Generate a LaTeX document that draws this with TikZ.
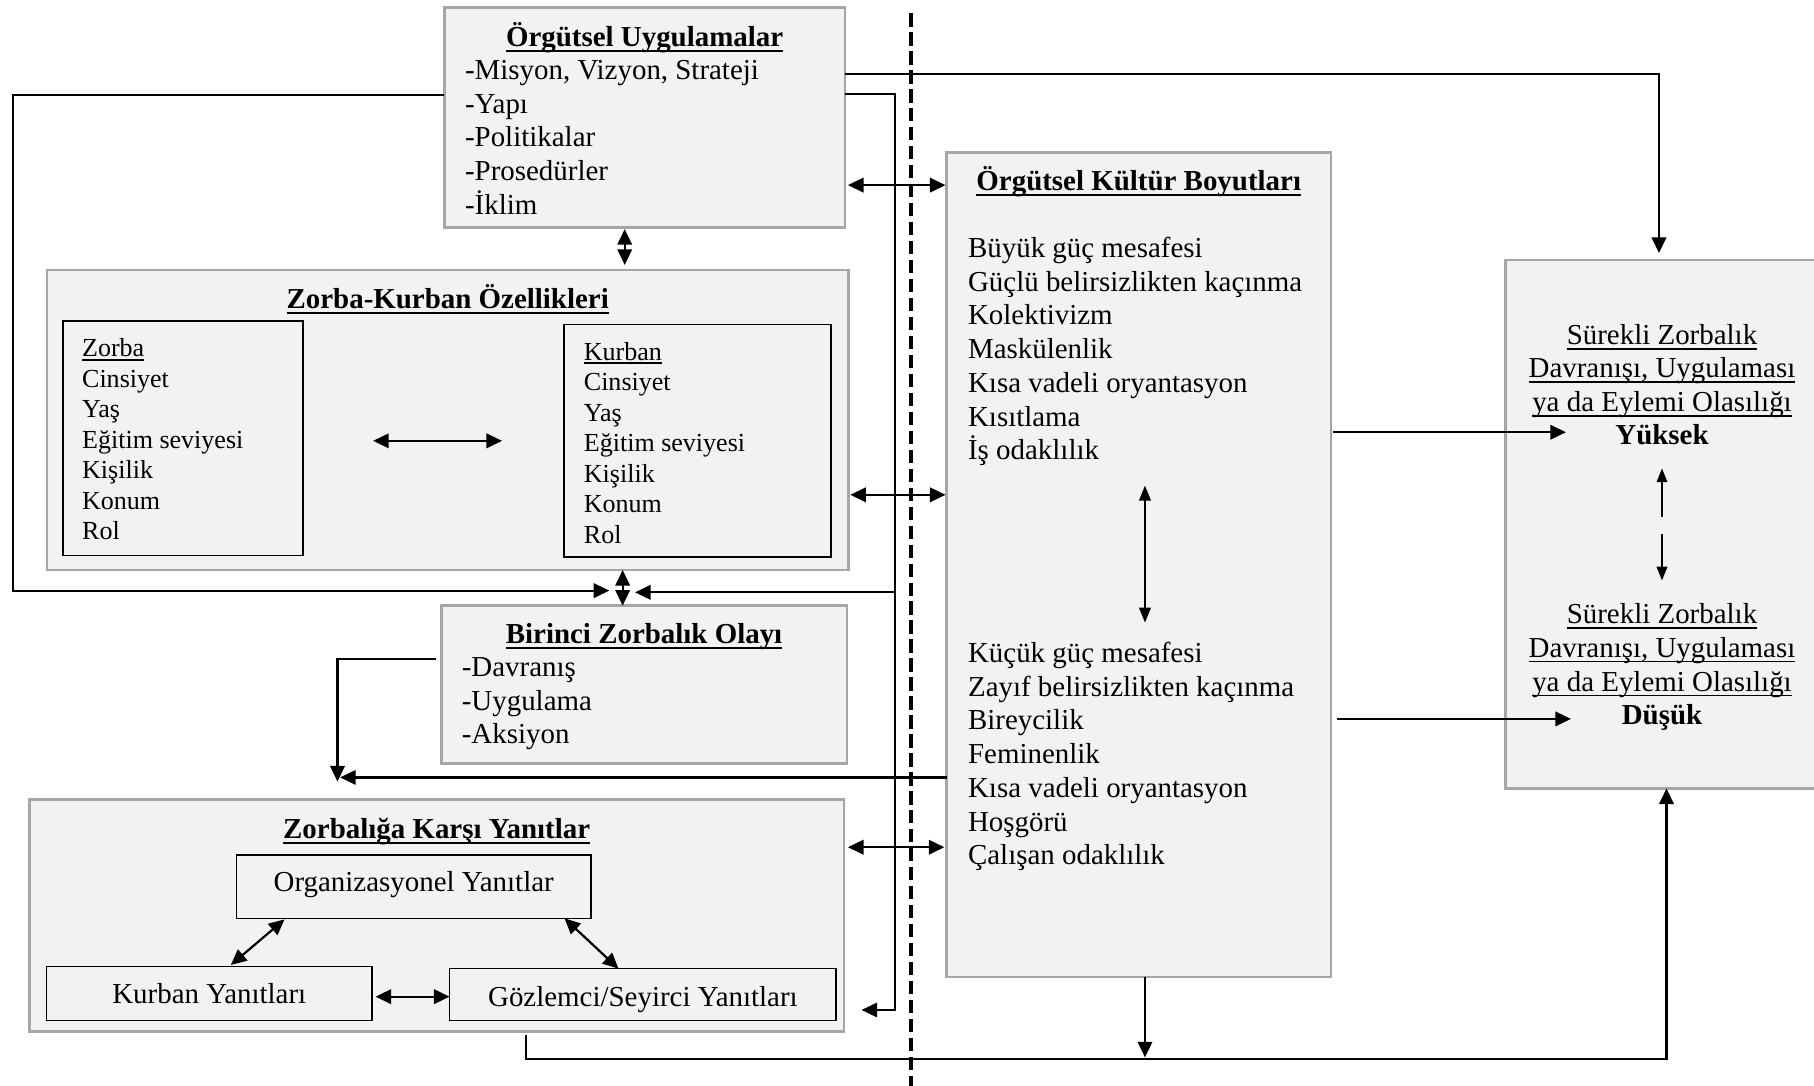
\documentclass[tikz,border=0pt]{standalone}
\usepackage{fontspec}
\setmainfont{Liberation Serif}
\usetikzlibrary{arrows.meta}

\definecolor{boxfill}{RGB}{242,242,242}
\definecolor{boxline}{RGB}{166,166,166}

% underline at a fixed distance below the baseline: #1 gap, #2 rule thickness, #3 text
\newcommand{\ulx}[3]{{\setbox0=\hbox{#3}\dp0=0pt \vtop{\box0\kern#1\hrule height #2}}}
\newcommand{\ttl}[1]{\ulx{3pt}{2pt}{\bfseries #1}}
\newcommand{\ulr}[1]{\ulx{3pt}{1.4pt}{#1}}

\begin{document}
\begin{tikzpicture}[x=1pt,y=-1pt,
  every node/.style={inner sep=0pt, outer sep=0pt},
  panel/.style={draw=boxline, fill=boxfill, line width=2.2pt, anchor=north west},
  inbox/.style={draw=black, fill=boxfill, line width=1.3pt, anchor=north west},
  txt/.style={anchor=base west, font=\fontsize{25}{30}\selectfont},
  ctxt/.style={anchor=base, font=\fontsize{25}{30}\selectfont},
  stxt/.style={anchor=base west, font=\fontsize{22.5}{27}\selectfont},
  conn/.style={line width=1.9pt},
  arr/.style={conn, -{Triangle[length=13.5pt,width=12.5pt]}},
  darr/.style={conn, {Triangle[length=13.5pt,width=12.5pt]}-{Triangle[length=13.5pt,width=12.5pt]}},
]
\useasboundingbox (0,0) rectangle (1568,938);

% ---------- panels ----------
\node[panel, minimum width=346.4, minimum height=190.5] (ou) at (384,6.3) {};
\node[panel, minimum width=692.9, minimum height=259.3] (zk) at (40.6,233.4) {};
\node[inbox, minimum width=207.4, minimum height=202.8] (zb) at (54.3,277.5) {};
\node[inbox, minimum width=230.8, minimum height=200.9] (kb) at (487.5,280.6) {};
\node[panel, minimum width=350.5, minimum height=136.3] (bz) at (381.5,523.5) {};
\node[panel, minimum width=704, minimum height=200.9] (yb) at (25.4,690.9) {};
\node[inbox, minimum width=306.4, minimum height=54.8] (org) at (204.4,739) {};
\node[inbox, minimum width=281.5, minimum height=46.7] (kry) at (40.1,835.6) {};
\node[inbox, minimum width=334.2, minimum height=45] (gsy) at (388.6,837.3) {};
\node[panel, minimum width=332.1, minimum height=712.6] (k5) at (818.3,131.9) {};
\node[panel, minimum width=274, minimum height=456.8] (b6) at (1301.2,224.7) {};

% ---------- dividing line ----------
\coordinate (dv1) at (787.5,11.5);
\coordinate (dv2) at (787.5,945);
\draw[line width=4pt, dash pattern=on 11.5pt off 4.9pt] (dv1) -- (dv2);

% ---------- texts: Örgütsel Uygulamalar ----------
\node[ctxt] (ou-t) at (557.2,40.3) {\ttl{Örgütsel Uygulamalar}};
\foreach \s [count=\i from 0] in {{-Misyon, Vizyon, Strateji},-Yapı,-Politikalar,-Prosedürler,-İklim}
  \node[txt] (ou-\i) at (402,69+29*\i) {\s};

% ---------- Zorba-Kurban Özellikleri ----------
\node[ctxt] (zk-t) at (387,266.5) {\ttl{Zorba-Kurban Özellikleri}};
\node[stxt] (zb-0) at (71,308.3) {\ulx{2pt}{1.4pt}{Zorba}};
\foreach \s [count=\i] in {Cinsiyet,Yaş,Eğitim seviyesi,Kişilik,Konum,Rol}
  \node[stxt] (zb-\i) at (71,308.3+26.4*\i) {\s};
\node[stxt] (kb-0) at (504.7,311.2) {\ulx{2pt}{1.4pt}{Kurban}};
\foreach \s [count=\i] in {Cinsiyet,Yaş,Eğitim seviyesi,Kişilik,Konum,Rol}
  \node[stxt] (kb-\i) at (504.7,311.2+26.4*\i) {\s};

% ---------- Birinci Zorbalık Olayı ----------
\node[ctxt] (bz-t) at (556.7,556) {\ttl{Birinci Zorbalık Olayı}};
\foreach \s [count=\i from 0] in {-Davranış,-Uygulama,-Aksiyon}
  \node[txt] (bz-\i) at (399.2,585+29*\i) {\s};

% ---------- Zorbalığa Karşı Yanıtlar ----------
\node[ctxt] (yb-t) at (377.4,724.6) {\ttl{Zorbalığa Karşı Yanıtlar}};
\node[ctxt] (org-t) at (357.6,770.7) {Organizasyonel Yanıtlar};
\node[ctxt] (kry-t) at (180.9,867.8) {Kurban Yanıtları};
\node[ctxt] (gsy-t) at (555.7,869.6) {Gözlemci/Seyirci Yanıtları};

% ---------- Örgütsel Kültür Boyutları ----------
\node[ctxt] (k5-t) at (984.3,164.6) {\ttl{Örgütsel Kültür Boyutları}};
\foreach \s [count=\i from 0] in {Büyük güç mesafesi,Güçlü belirsizlikten kaçınma,Kolektivizm,Maskülenlik,Kısa vadeli oryantasyon,Kısıtlama,İş odaklılık}
  \node[txt] (kh-\i) at (836.8,222.6+29.13*\i) {\s};
\foreach \s [count=\i from 0] in {Küçük güç mesafesi,Zayıf belirsizlikten kaçınma,Bireycilik,Feminenlik,Kısa vadeli oryantasyon,Hoşgörü,Çalışan odaklılık}
  \node[txt] (kl-\i) at (836.8,572.5+29.18*\i) {\s};

% ---------- outcome ----------
\node[ctxt] (hi-0) at (1436.6,297.7) {\ulr{Sürekli Zorbalık}};
\node[ctxt] (hi-1) at (1436.6,326.4) {\ulr{Davranışı, Uygulaması}};
\node[ctxt] (hi-2) at (1436.6,355.7) {\ulr{ya da Eylemi Olasılığı}};
\node[ctxt] (hi-3) at (1436.6,384) {\bfseries Yüksek};
\node[ctxt] (lo-0) at (1436.6,538.9) {\ulr{Sürekli Zorbalık}};
\node[ctxt] (lo-1) at (1436.6,568.2) {\ulr{Davranışı, Uygulaması}};
\node[ctxt] (lo-2) at (1436.6,597.6) {\ulr{ya da Eylemi Olasılığı}};
\node[ctxt] (lo-3) at (1436.6,626.4) {\bfseries Düşük};

% ---------- connectors ----------
% practices -> outcome (top route)
\coordinate (c1) at (1434,64);
\draw[arr, shorten >=6pt] (ou.east |- c1) -- (c1) -- (c1 |- b6.north);

% practices -> right rail -> responses, and rail -> first incident
\coordinate (r1) at (773.6,81.3);
\coordinate (r2) at (773.6,873);
\coordinate (r3) at (773.6,512);
\coordinate (r3e) at (548.9,512);
\draw[arr, shorten >=15.3pt] (ou.east |- r1) -- (r1) -- (r2) -- (r2 -| yb.east);
\draw[arr] (r3) -- (r3e);

% practices -> left rail -> first incident
\coordinate (l1) at (11.2,82);
\coordinate (l2) at (11.2,510.5);
\coordinate (l2e) at (526.7,510.5);
\draw[arr] (ou.west |- l1) -- (l1) -- (l2) -- (l2e);

% vertical links in the left column
\coordinate (m1) at (540,0);
\coordinate (m2) at (538.2,0);
\draw[darr, shorten <=1.2pt, shorten >=4.4pt] (ou.south -| m1) -- (zk.north -| m1);
\draw[darr] (zk.south -| m2) -- (bz.north -| m2);

% first incident -> responses
\coordinate (d1) at (291.7,569.3);
\coordinate (d2) at (291.7,675.6);
\draw[arr, shorten <=4.6pt] (bz.west |- d1) -- (d1) -- (d2);
\coordinate (d3) at (294,672);
\draw[arr] (k5.west |- d3) -- (d3);

% two-way links across the divide
\coordinate (h1) at (0,160);
\coordinate (h2) at (0,427.7);
\coordinate (h3) at (0,732.3);
\draw[darr, shorten <=2.5pt, shorten >=1pt] (ou.east |- h1) -- (k5.west |- h1);
\draw[darr, shorten <=1.5pt, shorten >=1pt] (zk.east |- h2) -- (k5.west |- h2);
\draw[darr, shorten <=3.5pt, shorten >=2pt] (yb.east |- h3) -- (k5.west |- h3);

% culture -> outcome
\coordinate (o1) at (1353.6,373.6);
\coordinate (o2) at (1357.9,621.4);
\draw[arr, shorten <=1.5pt] (k5.east |- o1) -- (o1);
\draw[arr, shorten <=5pt] (k5.east |- o2) -- (o2);

% culture: between the two poles
\coordinate (v1) at (989.7,419.7);
\coordinate (v2) at (989.7,538.2);
\draw[conn, {Triangle[length=13pt,width=10pt]}-{Triangle[length=13pt,width=10pt]}] (v1) -- (v2);

% outcome: between high and low
\coordinate (w1) at (1436.6,446.5);
\coordinate (w2) at (1436.6,404.8);
\coordinate (w3) at (1436.6,462);
\coordinate (w4) at (1436.6,501.8);
\draw[conn, -{Triangle[length=12pt,width=9pt]}] (w1) -- (w2);
\draw[conn, -{Triangle[length=12pt,width=9pt]}] (w3) -- (w4);

% bottom route
\coordinate (f1) at (989.7,914);
\draw[arr] (k5.south -| f1) -- (f1);
\coordinate (g1) at (455,915.2);
\coordinate (g2) at (1440.5,915.2);
\draw[arr, shorten <=2.8pt] (yb.south -| g1) -- (g1) -- (g2) -- (g2 |- b6.south);

% inside the bully-victim panel
\draw[darr, shorten <=60.8pt, shorten >=53.5pt] (zb.east |- kb.west) -- (kb.west);

% inside the responses panel
\coordinate (a1) at (247,0);
\coordinate (a2) at (197.8,0);
\coordinate (a3) at (488,0);
\coordinate (a4) at (534.6,0);
\coordinate (q1) at (0,861.5);
\draw[darr, shorten <=1.4pt, shorten >=2.3pt] (org.south -| a1) -- (kry.north -| a2);
\draw[darr] (org.south -| a3) -- (gsy.north -| a4);
\draw[darr, shorten <=3pt] (kry.east |- q1) -- (gsy.west |- q1);

\end{tikzpicture}
\end{document}
